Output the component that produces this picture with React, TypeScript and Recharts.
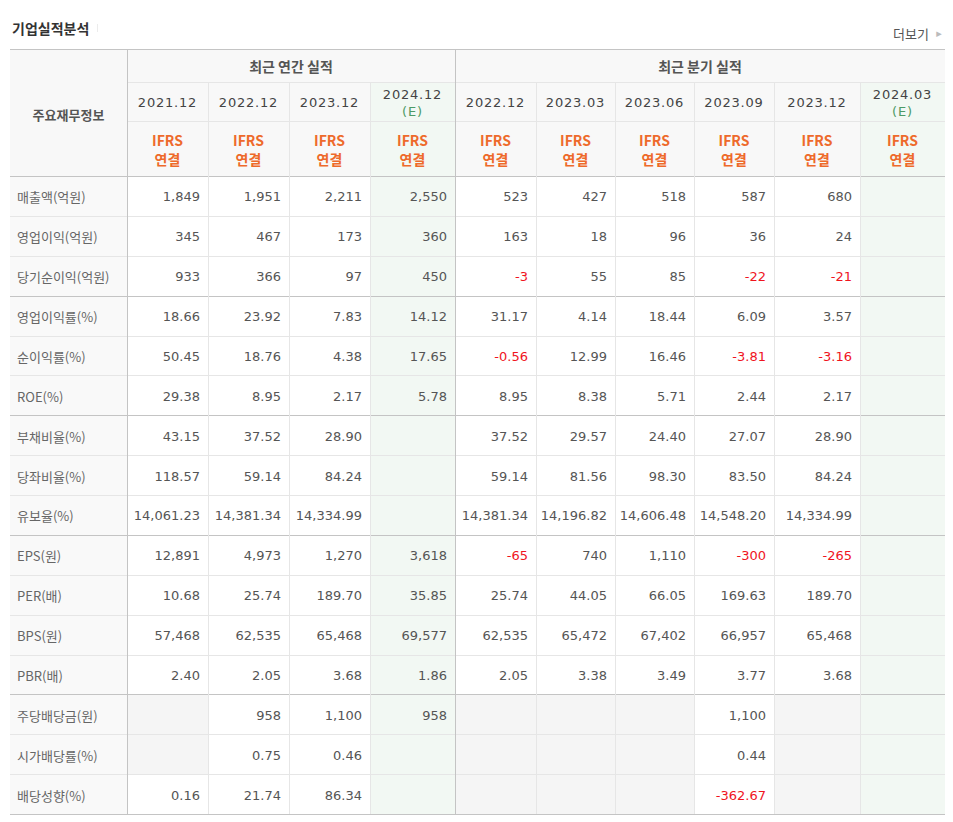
import { ComposedChart, XAxis, YAxis, Scatter, ReferenceArea, ReferenceLine } from "recharts";

// column headers
const periods = ["2021.12", "2022.12", "2023.12", "2024.12", "2022.12", "2023.03", "2023.06", "2023.09", "2023.12", "2024.03"];
const isEstimate = [false, false, false, true, false, false, false, false, false, true];
const groupTitles = ["최근 연간 실적", "최근 분기 실적"];

// row labels
const metricNames = [
  "매출액(억원)", "영업이익(억원)", "당기순이익(억원)",
  "영업이익률(%)", "순이익률(%)", "ROE(%)",
  "부채비율(%)", "당좌비율(%)", "유보율(%)",
  "EPS(원)", "PER(배)", "BPS(원)", "PBR(배)",
  "주당배당금(원)", "시가배당률(%)", "배당성향(%)",
];

const sales = [1849, 1951, 2211, 2550, 523, 427, 518, 587, 680, null];
const opProfit = [345, 467, 173, 360, 163, 18, 96, 36, 24, null];
const netIncome = [933, 366, 97, 450, -3, 55, 85, -22, -21, null];
const opMargin = [18.66, 23.92, 7.83, 14.12, 31.17, 4.14, 18.44, 6.09, 3.57, null];
const netMargin = [50.45, 18.76, 4.38, 17.65, -0.56, 12.99, 16.46, -3.81, -3.16, null];
const roe = [29.38, 8.95, 2.17, 5.78, 8.95, 8.38, 5.71, 2.44, 2.17, null];
const debtRatio = [43.15, 37.52, 28.9, null, 37.52, 29.57, 24.4, 27.07, 28.9, null];
const quickRatio = [118.57, 59.14, 84.24, null, 59.14, 81.56, 98.3, 83.5, 84.24, null];
const reserveRatio = [14061.23, 14381.34, 14334.99, null, 14381.34, 14196.82, 14606.48, 14548.2, 14334.99, null];
const eps = [12891, 4973, 1270, 3618, -65, 740, 1110, -300, -265, null];
const per = [10.68, 25.74, 189.7, 35.85, 25.74, 44.05, 66.05, 169.63, 189.7, null];
const bps = [57468, 62535, 65468, 69577, 62535, 65472, 67402, 66957, 65468, null];
const pbr = [2.4, 2.05, 3.68, 1.86, 2.05, 3.38, 3.49, 3.77, 3.68, null];
const dps = [null, 958, 1100, 958, null, null, null, 1100, null, null];
const divYield = [null, 0.75, 0.46, null, null, null, null, 0.44, null, null];
const payout = [0.16, 21.74, 86.34, null, null, null, null, -362.67, null, null];

const metricValues = [sales, opProfit, netIncome, opMargin, netMargin, roe, debtRatio, quickRatio, reserveRatio, eps, per, bps, pbr, dps, divYield, payout];
const decimals = [0, 0, 0, 2, 2, 2, 2, 2, 2, 0, 2, 0, 2, 0, 2, 2];
const sectionEnds = [3, 6, 9, 13];

// layout
const W = 953;
const H = 822;
const colX = [10, 127, 208, 289, 370, 455, 536, 615, 694, 774, 860, 945];
const headTop = 49;
const head1 = 82;
const head2 = 121;
const bodyTop = 176;
const rowH = 39.875;

const NUM_FONT = "'DejaVu Sans', sans-serif";
const KR_FONT = "'Noto Sans CJK KR', sans-serif";
const major = "#c4c4c4";
const minor = "#e6e6e6";

const rowY = (r: number) => bodyTop + r * rowH;
const crisp = (v: number) => Math.round(v) + 0.5;

const fmt = (v: number, d: number) =>
  v.toLocaleString("en-US", { minimumFractionDigits: d, maximumFractionDigits: d });

type Pt = { x: number; y: number; text: string; color: string; size: number; weight?: string; anchor?: string; font: string; ls?: number };

const points: Pt[] = [];
points.push({ x: 12, y: 28, text: "기업실적분석", color: "#333", size: 14, weight: "bold", anchor: "start", font: KR_FONT });
points.push({ x: 929, y: 33, text: "더보기", color: "#555", size: 13, anchor: "end", font: KR_FONT });
points.push({ x: 939, y: 33, text: "▸", color: "#bbb", size: 11, anchor: "middle", font: NUM_FONT });
points.push({ x: (colX[0] + colX[1]) / 2, y: 114, text: "주요재무정보", color: "#555", size: 13, weight: "bold", font: KR_FONT });
points.push({ x: (colX[1] + colX[5]) / 2, y: 66, text: groupTitles[0], color: "#555", size: 14, weight: "bold", font: KR_FONT });
points.push({ x: (colX[5] + colX[11]) / 2, y: 66, text: groupTitles[1], color: "#555", size: 14, weight: "bold", font: KR_FONT });
periods.forEach((p, c) => {
  const cx = (colX[c + 1] + colX[c + 2]) / 2;
  if (isEstimate[c]) {
    points.push({ x: cx, y: 94, text: p, color: "#444", size: 13, font: NUM_FONT, ls: 0.8 });
    points.push({ x: cx, y: 111, text: "(E)", color: "#4d9a66", size: 13, font: NUM_FONT, ls: 0.8 });
  } else {
    points.push({ x: cx, y: 102, text: p, color: "#444", size: 13, font: NUM_FONT, ls: 0.8 });
  }
  points.push({ x: cx, y: 140, text: "IFRS", color: "#ee6a2b", size: 14, weight: "bold", font: KR_FONT });
  points.push({ x: cx, y: 159, text: "연결", color: "#ee6a2b", size: 14, weight: "bold", font: KR_FONT });
});
metricNames.forEach((m, r) => {
  const cy = rowY(r) + rowH / 2 + 1;
  points.push({ x: 17, y: cy, text: m, color: "#666", size: 13, anchor: "start", font: KR_FONT });
  metricValues[r].forEach((v, c) => {
    if (v === null) return;
    points.push({ x: colX[c + 2] - 8, y: cy, text: fmt(v, decimals[r]), color: v < 0 ? "#f0141e" : "#555", size: 13, anchor: "end", font: NUM_FONT });
  });
});

const TextMark = (p: any) => {
  const d: Pt = p.payload;
  return (
    <text x={p.cx} y={p.cy} textAnchor={d.anchor || "middle"} dominantBaseline="central" fill={d.color}
      fontSize={d.size} fontWeight={d.weight || "normal"} fontFamily={d.font} letterSpacing={d.ls || 0}>
      {d.text}
    </text>
  );
};

export default function App() {
  const areas: { x1: number; x2: number; y1: number; y2: number; fill: string }[] = [];
  areas.push({ x1: colX[0], x2: colX[11], y1: headTop, y2: bodyTop, fill: "#f8f8f8" });
  areas.push({ x1: colX[0], x2: colX[1], y1: bodyTop, y2: rowY(16), fill: "#f9f9f9" });
  isEstimate.forEach((e, c) => {
    if (e) areas.push({ x1: colX[c + 1], x2: colX[c + 2], y1: head1, y2: rowY(16), fill: "#f2f8f3" });
  });
  metricValues.forEach((vals, r) => {
    if (r < 13) return;
    vals.forEach((v, c) => {
      if (v === null && !isEstimate[c]) areas.push({ x1: colX[c + 1], x2: colX[c + 2], y1: rowY(r), y2: rowY(r + 1), fill: "#f5f5f5" });
    });
  });

  const lines: { x1: number; y1: number; x2: number; y2: number; c: string }[] = [];
  lines.push({ x1: colX[0], y1: crisp(headTop), x2: colX[11], y2: crisp(headTop), c: major });
  lines.push({ x1: colX[1], y1: crisp(head1), x2: colX[11], y2: crisp(head1), c: minor });
  lines.push({ x1: colX[1], y1: crisp(head2), x2: colX[11], y2: crisp(head2), c: minor });
  for (let r = 0; r <= 16; r++) {
    const isMajor = r === 0 || r === 16 || sectionEnds.includes(r);
    lines.push({ x1: colX[0], y1: crisp(rowY(r)), x2: colX[11], y2: crisp(rowY(r)), c: isMajor ? major : minor });
  }
  for (let c = 2; c <= 10; c++) {
    if (c === 5) continue;
    lines.push({ x1: crisp(colX[c]), y1: head1, x2: crisp(colX[c]), y2: rowY(16), c: minor });
  }
  lines.push({ x1: crisp(colX[1]), y1: headTop, x2: crisp(colX[1]), y2: rowY(16), c: major });
  lines.push({ x1: crisp(colX[5]), y1: headTop, x2: crisp(colX[5]), y2: rowY(16), c: major });
  lines.push({ x1: 97.5, y1: 24, x2: 97.5, y2: 32, c: "#ececec" });

  return (
    <div style={{ position: "absolute", left: 0, top: 0, width: W, height: H, background: "#fff" }}>
      <ComposedChart width={W} height={H} margin={{ top: 0, right: 0, bottom: 0, left: 0 }}>
        <XAxis type="number" dataKey="x" domain={[0, W]} allowDataOverflow hide />
        <YAxis type="number" dataKey="y" domain={[0, H]} allowDataOverflow reversed hide />
        {areas.map((a, i) => (
          <ReferenceArea key={"a" + i} x1={a.x1} x2={a.x2} y1={a.y1} y2={a.y2} fill={a.fill} fillOpacity={1} stroke="none" />
        ))}
        {lines.map((l, i) => (
          <ReferenceLine key={"l" + i} segment={[{ x: l.x1, y: l.y1 }, { x: l.x2, y: l.y2 }]} stroke={l.c} strokeWidth={1} />
        ))}
        <Scatter data={points} shape={TextMark} isAnimationActive={false} />
      </ComposedChart>
    </div>
  );
}
